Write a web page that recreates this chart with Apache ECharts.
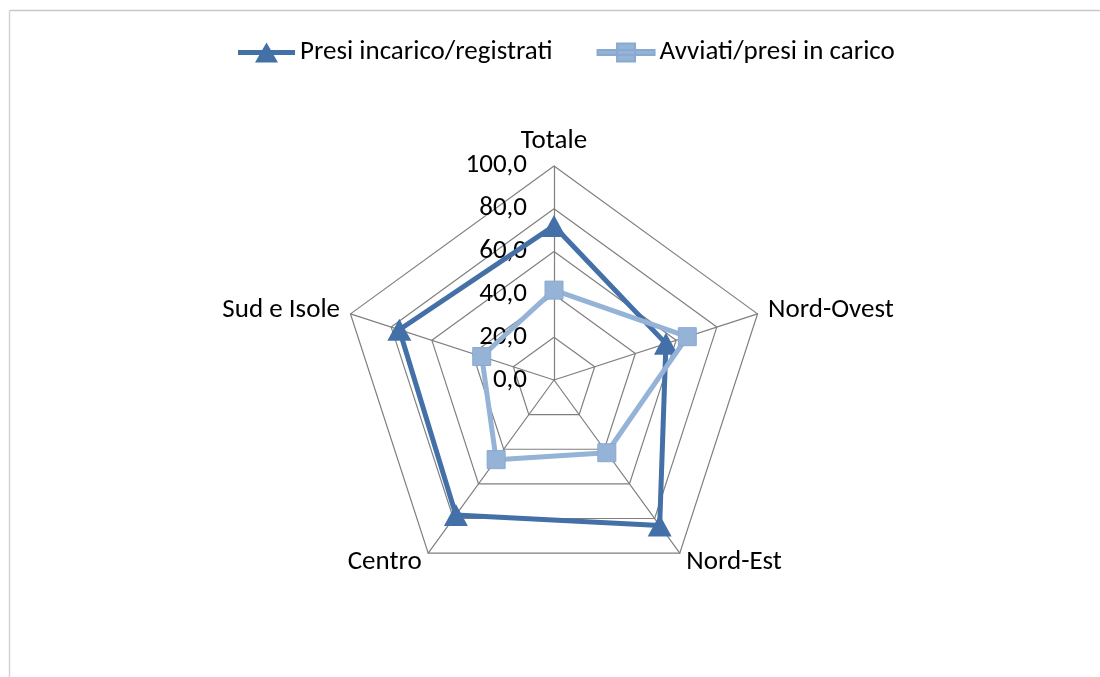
<!DOCTYPE html>
<html>
<head>
<meta charset="utf-8">
<script src="https://cdn.jsdelivr.net/npm/echarts@6/dist/echarts.min.js"></script>
<style>
html,body{margin:0;padding:0;background:#fff;}
#chart{width:1100px;height:677px;}
</style>
</head>
<body>
<div id="chart"></div>
<script>
// Data (categories in clockwise order starting from top)
const categories = ['Totale', 'Nord-Ovest', 'Nord-Est', 'Centro', 'Sud e Isole'];
const presiIncaricoRegistrati = [72, 55, 84, 78, 76];
const avviatiPresiInCarico = [42, 65.5, 42, 46, 35.5];
const tickValues = [0, 20, 40, 60, 80, 100];
const seriesNames = ['Presi incarico/registrati', 'Avviati/presi in carico'];

// ECharts radar places indicators counter-clockwise; reorder to get clockwise layout
const order = [0, 4, 3, 2, 1];
const reorder = arr => order.map(i => arr[i]);

const FONT = 'Carlito, Lato, "Open Sans", sans-serif';
const FS = 27;
const DARK = '#4470A8';
const LIGHT = '#95B3D7';

const ICON_TRI = 'path://M0,7.5 L57,7.5 L57,12.5 L0,12.5 Z M17,20 L28.5,0 L40,20 Z';
const ICON_RECT = 'path://M0,7.5 L57,7.5 L57,12.5 L0,12.5 Z M19.5,1 L37.5,1 L37.5,19 L19.5,19 Z';

const chart = echarts.init(document.getElementById('chart'));
chart.setOption({
  backgroundColor: '#fff',
  animation: false,
  legend: {
    top: 34,
    left: 233,
    itemWidth: 57,
    itemHeight: 20,
    itemGap: 44,
    textStyle: { fontFamily: FONT, fontSize: FS, color: '#000' },
    data: [
      { name: seriesNames[0], icon: ICON_TRI, itemStyle: { color: DARK } },
      { name: seriesNames[1], icon: ICON_RECT, itemStyle: { color: LIGHT } }
    ]
  },
  grid: { left: 554, width: 2, top: 165, bottom: 297 },
  xAxis: { type: 'value', show: false },
  yAxis: {
    type: 'value',
    min: tickValues[0],
    max: tickValues[tickValues.length - 1],
    interval: 20,
    axisLine: { show: false },
    axisTick: { show: false },
    splitLine: { show: false },
    axisLabel: {
      margin: 27,
      fontFamily: FONT,
      fontSize: FS,
      color: '#000',
      formatter: v => v.toFixed(1).replace('.', ',')
    }
  },
  radar: {
    center: [554, 380],
    radius: 214,
    startAngle: 90,
    shape: 'polygon',
    splitNumber: 5,
    indicator: reorder(categories).map(n => ({ name: n, min: 0, max: 100 })),
    axisName: { color: '#000', fontFamily: FONT, fontSize: FS },
    nameGap: 11,
    axisLine: { lineStyle: { color: '#7f7f7f', width: 1.2 } },
    splitLine: { lineStyle: { color: '#7f7f7f', width: 1.2 } },
    splitArea: { show: false },
    axisLabel: { show: false },
    axisTick: { show: false }
  },
  series: [
    {
      type: 'radar',
      z: 3,
      data: [
        {
          name: seriesNames[0],
          value: reorder(presiIncaricoRegistrati),
          symbol: 'triangle',
          symbolSize: [24, 22],
          itemStyle: { color: DARK },
          lineStyle: { color: DARK, width: 5 }
        }
      ]
    },
    {
      type: 'radar',
      z: 4,
      data: [
        {
          name: seriesNames[1],
          value: reorder(avviatiPresiInCarico),
          symbol: 'rect',
          symbolSize: 18,
          itemStyle: { color: LIGHT, borderColor: '#8AA9D0', borderWidth: 1 },
          lineStyle: { color: LIGHT, width: 5 }
        }
      ]
    }
  ],
  graphic: [
    { type: 'line', shape: { x1: 9.5, y1: 10.5, x2: 1100, y2: 10.5 }, style: { stroke: '#c8c8c8', lineWidth: 1.5 }, silent: true },
    { type: 'line', shape: { x1: 9.5, y1: 10.5, x2: 9.5, y2: 677 }, style: { stroke: '#d4d4d4', lineWidth: 1.5 }, silent: true }
  ]
});
</script>
</body>
</html>
